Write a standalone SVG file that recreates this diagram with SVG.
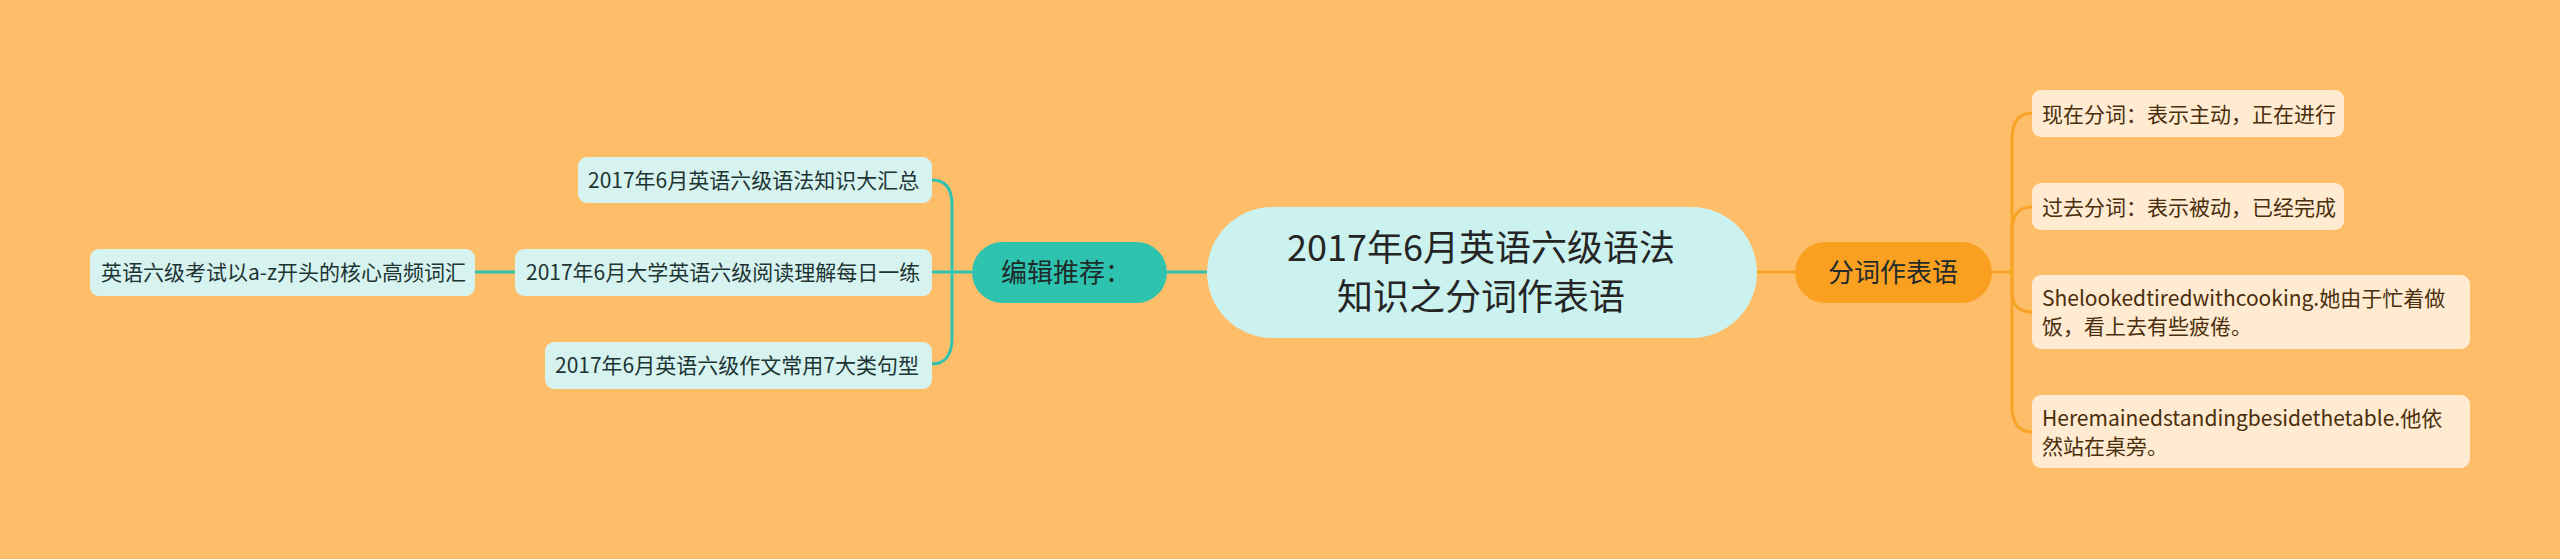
<svg xmlns="http://www.w3.org/2000/svg" width="2560" height="559" viewBox="0 0 2560 559">
<style>
text{font-family:"Noto Sans CJK SC","Noto Sans",sans-serif;}
.bg{fill:#FEBD69;}
.root{fill:#CBF2EF;}
.roott{font-size:36px;fill:#252525;text-anchor:middle;}
.mainL{fill:#2EC3AF;}
.mainR{fill:#F9A021;}
.maint{font-size:26px;fill:#1F2A2A;text-anchor:middle;}
.subL{fill:#D6F3F0;}
.subLt{font-size:21px;fill:#1E3333;}
.subR{fill:#FFEBD1;}
.subRt{font-size:21px;fill:#4A2E0C;}
.cl{fill:none;stroke:#2EC3AF;stroke-width:3;}
.cr{fill:none;stroke:#F7A325;stroke-width:3;}
</style>
<rect class="bg" x="0" y="0" width="2560" height="559"/>
<g id="connectors">
<path class="cl" d="M1167,272 H1207"/>
<path class="cl" d="M972,272 H932"/>
<path class="cl" d="M952,272 V205 C952,188 945,180 932,180"/>
<path class="cl" d="M952,272 V338 C952,355 945,364 932,364"/>
<path class="cl" d="M515,272 H475"/>
<path class="cr" d="M1757,272 H1795"/>
<path class="cr" d="M1992,272 H2012"/>
<path class="cr" d="M2012,272 V140 C2012,122 2018,113 2032,113"/>
<path class="cr" d="M2012,272 V233 C2012,215 2018,207 2032,207"/>
<path class="cr" d="M2012,272 V290 C2012,305 2018,312 2032,312"/>
<path class="cr" d="M2012,272 V405 C2012,423 2018,432 2032,432"/>
</g>
<g id="root">
<rect class="root" x="1207" y="207" width="550" height="131" rx="65.5"/>
<text class="roott" x="1481" y="261">2017年6月英语六级语法</text>
<text class="roott" x="1481" y="310">知识之分词作表语</text>
</g>
<g id="n-bianji">
<rect class="mainL" x="972" y="242" width="195" height="61" rx="30.5"/>
<text class="maint" x="1066" y="282">编辑推荐：</text>
</g>
<g id="n-l1">
<rect class="subL" x="578" y="157" width="354" height="46" rx="9"/>
<text class="subLt" x="588" y="188">2017年6月英语六级语法知识大汇总</text>
</g>
<g id="n-l2">
<rect class="subL" x="515" y="249" width="417" height="47" rx="9"/>
<text class="subLt" x="526" y="280">2017年6月大学英语六级阅读理解每日一练</text>
</g>
<g id="n-l3">
<rect class="subL" x="545" y="342" width="387" height="47" rx="9"/>
<text class="subLt" x="555" y="373">2017年6月英语六级作文常用7大类句型</text>
</g>
<g id="n-l2a">
<rect class="subL" x="90" y="249" width="385" height="47" rx="9"/>
<text class="subLt" x="101" y="280">英语六级考试以a-z开头的核心高频词汇</text>
</g>
<g id="n-fenci">
<rect class="mainR" x="1795" y="242" width="197" height="61" rx="30.5"/>
<text class="maint" x="1893" y="282">分词作表语</text>
</g>
<g id="n-r1">
<rect class="subR" x="2032" y="90" width="312" height="47" rx="9"/>
<text class="subRt" x="2042" y="122">现在分词：表示主动，正在进行</text>
</g>
<g id="n-r2">
<rect class="subR" x="2032" y="183" width="312" height="47" rx="9"/>
<text class="subRt" x="2042" y="215">过去分词：表示被动，已经完成</text>
</g>
<g id="n-r3">
<rect class="subR" x="2032" y="275" width="438" height="74" rx="9"/>
<text class="subRt" x="2042" y="306">Shelookedtiredwithcooking.她由于忙着做</text>
<text class="subRt" x="2042" y="334">饭，看上去有些疲倦。</text>
</g>
<g id="n-r4">
<rect class="subR" x="2032" y="395" width="438" height="73" rx="9"/>
<text class="subRt" x="2042" y="426">Heremainedstandingbesidethetable.他依</text>
<text class="subRt" x="2042" y="454">然站在桌旁。</text>
</g>
</svg>
